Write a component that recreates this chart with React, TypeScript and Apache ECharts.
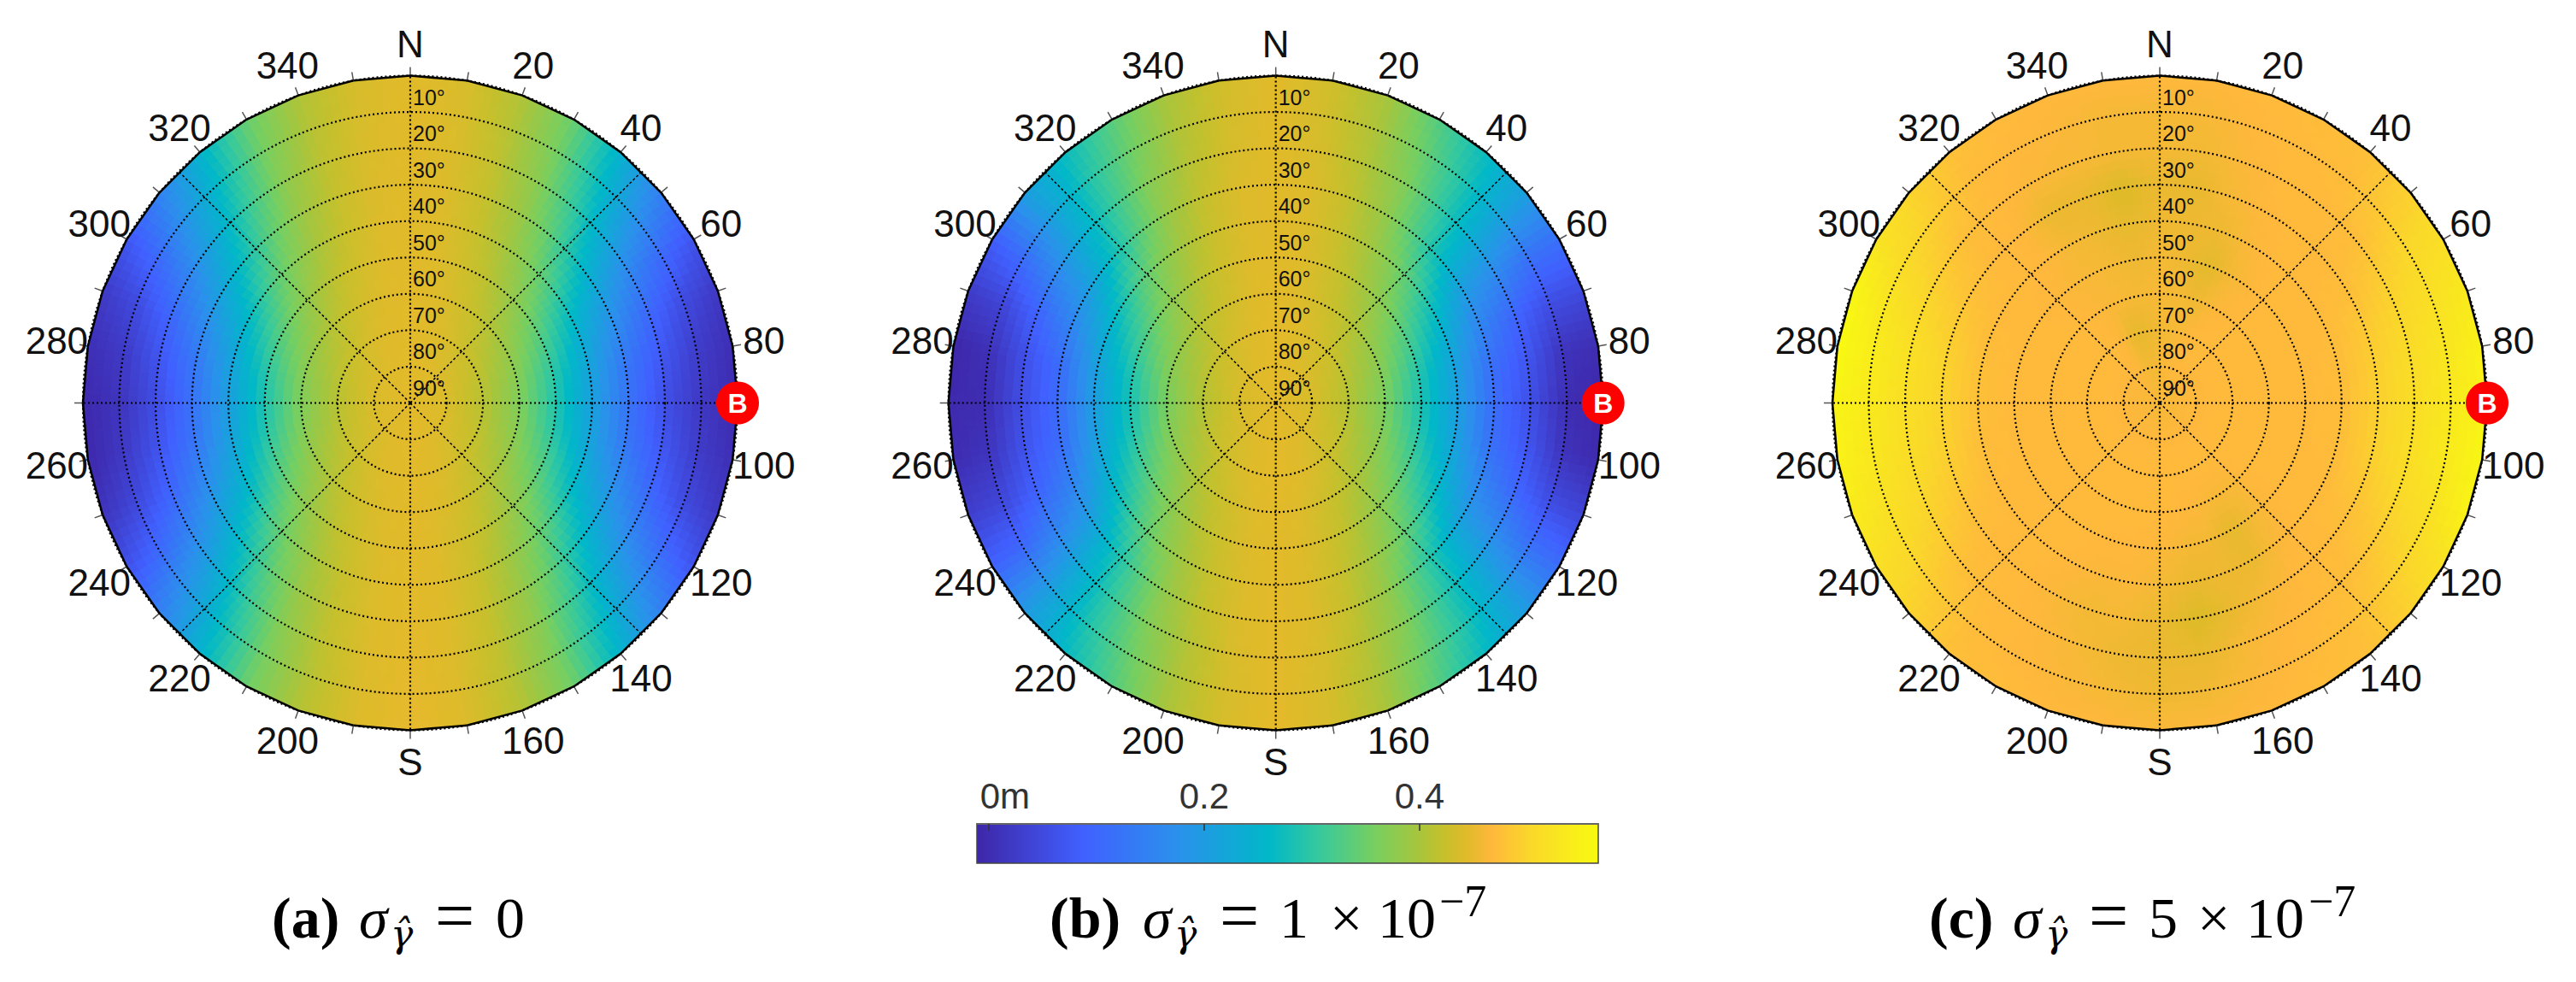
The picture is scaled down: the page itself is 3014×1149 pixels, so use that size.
import React, { useEffect, useRef } from "react";
import * as echarts from "echarts";

const elevations = [0, 10, 20, 30, 40, 50, 60, 70, 80];
const azimuths = Array.from({ length: 36 }, (_, i) => i * 10);
const compassAzimuths = [0, 20, 40, 60, 80, 100, 120, 140, 160, 180, 200, 220, 240, 260, 280, 300, 320, 340];
const compassLabels = ["N", "20", "40", "60", "80", "100", "120", "140", "160", "S", "200", "220", "240", "260", "280", "300", "320", "340"];
const spokeAzimuths = [0, 45, 90, 135, 180, 225, 270, 315];

const colormapValues = [-0.011, 0.087, 0.174, 0.26, 0.306, 0.358, 0.40, 0.422, 0.445, 0.468, 0.503, 0.566];
const colormapColors = ["#3e26a8", "#4060ff", "#2b90ec", "#00b8c8", "#35c99e", "#77cf60", "#a8c53c", "#c6c02c", "#e2ba2a", "#ffb83c", "#fad82a", "#f8fa10"];
const colorbarTicks = [0, 0.2, 0.4];

const centerValues = [0.445, 0.445, 0.462];

const valuesA = [
  [.445,.437,.407,.347,.248,.145,.065,.019,.002,-.003,.003,.02,.066,.147,.25,.35,.41,.44,.45,.44,.41,.35,.25,.145,.06,.012,-.008,-.006,.004,.022,.07,.15,.25,.345,.405,.435],
  [.445,.438,.411,.359,.273,.185,.102,.05,.027,.019,.027,.05,.103,.187,.275,.36,.413,.44,.448,.44,.412,.36,.273,.185,.1,.046,.02,.012,.022,.05,.104,.188,.273,.358,.41,.437],
  [.445,.439,.417,.375,.305,.225,.153,.099,.073,.058,.073,.1,.154,.226,.306,.376,.418,.44,.447,.44,.418,.375,.305,.224,.15,.095,.067,.054,.068,.098,.153,.226,.305,.374,.416,.438],
  [.445,.44,.422,.39,.338,.27,.213,.165,.13,.122,.13,.166,.214,.271,.339,.39,.423,.441,.446,.441,.422,.39,.338,.27,.212,.162,.127,.118,.128,.164,.213,.27,.337,.389,.421,.439],
  [.445,.441,.427,.403,.368,.325,.271,.237,.215,.207,.215,.238,.272,.325,.368,.403,.428,.442,.446,.441,.427,.403,.368,.325,.27,.235,.213,.204,.213,.236,.271,.324,.367,.402,.426,.44],
  [.445,.442,.432,.418,.396,.369,.34,.315,.295,.29,.295,.316,.34,.369,.396,.418,.432,.442,.445,.442,.432,.418,.396,.369,.34,.314,.294,.288,.294,.315,.34,.369,.396,.418,.432,.442],
  [.445,.443,.438,.428,.418,.403,.39,.378,.369,.365,.369,.378,.39,.403,.418,.428,.438,.443,.445,.443,.438,.428,.418,.403,.39,.378,.369,.365,.369,.378,.39,.403,.418,.428,.438,.443],
  [.445,.444,.442,.438,.431,.426,.422,.417,.413,.412,.413,.417,.422,.426,.431,.438,.442,.444,.445,.444,.442,.438,.431,.426,.422,.417,.413,.412,.413,.417,.422,.426,.431,.438,.442,.444],
  [.445,.445,.444,.443,.442,.441,.44,.44,.438,.438,.438,.44,.44,.441,.442,.443,.444,.445,.445,.445,.444,.443,.442,.441,.44,.44,.438,.438,.438,.44,.44,.441,.442,.443,.444,.445],
];

const valuesB = [
  [.445,.43,.40,.33,.27,.205,.115,.05,.0,-.008,-.005,.04,.11,.2,.265,.33,.40,.435,.448,.435,.40,.33,.265,.2,.09,.03,.0,-.005,-.01,.025,.08,.205,.27,.335,.40,.43],
  [.445,.432,.405,.35,.29,.215,.12,.055,.012,.0,.012,.055,.122,.215,.29,.35,.405,.435,.447,.435,.405,.35,.29,.21,.105,.045,.012,.0,.005,.04,.11,.21,.29,.35,.405,.432],
  [.445,.435,.41,.37,.305,.235,.16,.095,.07,.06,.07,.098,.16,.235,.305,.37,.412,.437,.447,.437,.41,.37,.305,.232,.15,.09,.065,.055,.06,.09,.155,.232,.305,.37,.41,.435],
  [.445,.44,.42,.385,.325,.26,.195,.15,.115,.11,.115,.15,.195,.26,.325,.385,.42,.44,.446,.44,.42,.385,.325,.26,.192,.145,.11,.105,.11,.148,.195,.26,.325,.385,.42,.44],
  [.445,.44,.425,.40,.365,.32,.27,.235,.21,.205,.21,.235,.27,.32,.365,.40,.425,.44,.446,.44,.425,.40,.365,.32,.27,.233,.208,.2,.208,.233,.27,.32,.365,.40,.425,.44],
  [.445,.442,.43,.415,.39,.365,.335,.31,.29,.285,.29,.31,.335,.365,.39,.415,.43,.442,.445,.442,.43,.415,.39,.365,.335,.31,.288,.282,.288,.31,.335,.365,.39,.415,.43,.442],
  [.445,.443,.435,.425,.415,.40,.385,.375,.365,.36,.365,.375,.385,.40,.415,.425,.435,.443,.445,.443,.435,.425,.415,.40,.385,.375,.365,.36,.365,.375,.385,.40,.415,.425,.435,.443],
  [.445,.445,.442,.437,.43,.425,.42,.415,.41,.41,.41,.415,.42,.425,.43,.437,.442,.445,.445,.445,.442,.437,.43,.425,.42,.415,.41,.41,.41,.415,.42,.425,.43,.437,.442,.445],
  [.445,.445,.444,.443,.441,.44,.439,.438,.437,.437,.437,.438,.439,.44,.441,.443,.444,.445,.445,.445,.444,.443,.441,.44,.439,.438,.437,.437,.437,.438,.439,.44,.441,.443,.444,.445],
];

const valuesC = [
  [.468,.468,.47,.472,.476,.495,.515,.535,.55,.555,.56,.552,.52,.495,.476,.472,.468,.466,.465,.468,.468,.472,.476,.497,.516,.538,.552,.555,.565,.56,.524,.5,.478,.47,.468,.468],
  [.46,.462,.468,.47,.472,.487,.505,.518,.528,.532,.535,.522,.505,.487,.474,.47,.465,.458,.455,.46,.465,.468,.472,.487,.505,.52,.53,.535,.54,.527,.506,.49,.472,.468,.465,.46],
  [.46,.458,.465,.47,.47,.473,.49,.502,.51,.512,.515,.506,.49,.475,.47,.468,.462,.45,.452,.455,.462,.468,.47,.475,.492,.503,.512,.515,.518,.506,.492,.475,.47,.465,.462,.46],
  [.452,.45,.462,.468,.47,.47,.474,.486,.492,.495,.495,.488,.476,.47,.47,.462,.452,.44,.452,.46,.458,.465,.47,.47,.476,.488,.495,.498,.498,.49,.478,.47,.468,.452,.452,.44],
  [.455,.455,.455,.465,.47,.47,.47,.471,.472,.473,.473,.471,.47,.47,.465,.452,.455,.452,.46,.465,.465,.468,.47,.47,.47,.472,.474,.476,.476,.472,.47,.47,.468,.46,.455,.448],
  [.46,.455,.445,.46,.468,.47,.47,.47,.47,.47,.47,.47,.47,.468,.46,.448,.458,.46,.465,.468,.468,.47,.47,.47,.47,.47,.47,.47,.47,.47,.47,.468,.465,.462,.46,.455],
  [.462,.46,.455,.465,.468,.47,.47,.47,.47,.47,.47,.47,.47,.468,.462,.462,.466,.468,.47,.47,.47,.47,.47,.47,.47,.47,.47,.47,.47,.47,.47,.47,.468,.465,.462,.46],
  [.458,.46,.465,.47,.47,.47,.47,.47,.47,.47,.47,.47,.47,.47,.47,.47,.47,.47,.47,.47,.47,.47,.47,.47,.47,.47,.47,.47,.47,.47,.47,.47,.47,.465,.448,.452],
  [.462,.465,.467,.468,.468,.468,.468,.468,.468,.468,.468,.468,.468,.468,.468,.468,.468,.468,.468,.468,.468,.468,.468,.468,.468,.468,.468,.468,.468,.468,.468,.468,.468,.466,.46,.458],
];

const panelValues = [valuesA, valuesB, valuesC];
const panelCenters = [480, 1492.7, 2527];

const SANS = '"Liberation Sans", Arial, sans-serif';
const SERIF = '"Liberation Serif", "Times New Roman", serif';
const MATH = '"DejaVu Serif", serif';

const hex = (c: string) => [parseInt(c.slice(1, 3), 16), parseInt(c.slice(3, 5), 16), parseInt(c.slice(5, 7), 16)];
const rgbStops = colormapColors.map(hex);

function colorOf(v: number) {
  const n = colormapValues.length;
  if (v <= colormapValues[0]) return colormapColors[0];
  if (v >= colormapValues[n - 1]) return colormapColors[n - 1];
  let i = 0;
  while (v > colormapValues[i + 1]) i++;
  const t = (v - colormapValues[i]) / (colormapValues[i + 1] - colormapValues[i]);
  const a = rgbStops[i];
  const b = rgbStops[i + 1];
  return `rgb(${Math.round(a[0] + (b[0] - a[0]) * t)},${Math.round(a[1] + (b[1] - a[1]) * t)},${Math.round(a[2] + (b[2] - a[2]) * t)})`;
}

const ringStep = [1, 2, 2, 3, 4, 4, 5, 6, 6];

function cellsSeries(p: number) {
  const table = panelValues[p];
  const data: number[][] = [];
  elevations.forEach((el, i) => azimuths.forEach((az, j) => data.push([el, az, table[i][j]])));
  return {
    type: "custom",
    coordinateSystem: "polar",
    polarIndex: p,
    silent: true,
    z: 2,
    data,
    renderItem: (params: any, api: any) => {
      const i = Math.floor(params.dataIndex / 36);
      const j = params.dataIndex % 36;
      const el0 = elevations[i];
      const el1 = el0 + 10;
      const az0 = azimuths[j];
      const az1 = az0 + 10;
      const v00 = table[i][j];
      const v01 = table[i][(j + 1) % 36];
      const v10 = i === 8 ? centerValues[p] : table[i + 1][j];
      const v11 = i === 8 ? centerValues[p] : table[i + 1][(j + 1) % 36];
      const p00 = api.coord([el0, az0]);
      const p01 = api.coord([el0, az1]);
      const p10 = api.coord([el1, az0]);
      const p11 = api.coord([el1, az1]);
      const na = ringStep[8 - i];
      const nr = 4;
      const pt = (s: number, t: number) => [
        (1 - t) * ((1 - s) * p00[0] + s * p01[0]) + t * ((1 - s) * p10[0] + s * p11[0]),
        (1 - t) * ((1 - s) * p00[1] + s * p01[1]) + t * ((1 - s) * p10[1] + s * p11[1]),
      ];
      const val = (s: number, t: number) => (1 - t) * ((1 - s) * v00 + s * v01) + t * ((1 - s) * v10 + s * v11);
      const children: any[] = [];
      for (let a = 0; a < na; a++) {
        for (let r = 0; r < nr; r++) {
          const s0 = a / na, s1 = (a + 1) / na, t0 = r / nr, t1 = (r + 1) / nr;
          const c = colorOf(val((s0 + s1) / 2, (t0 + t1) / 2));
          children.push({
            type: "polygon",
            shape: { points: [pt(s0, t0), pt(s1, t0), pt(s1, t1), pt(s0, t1)] },
            style: { fill: c, stroke: c, lineWidth: 1 },
          });
        }
      }
      return { type: "group", children };
    },
  };
}

function spokesSeries(p: number) {
  return {
    type: "custom",
    coordinateSystem: "polar",
    polarIndex: p,
    silent: true,
    z: 4,
    data: spokeAzimuths.map((az) => [0, az]),
    renderItem: (_: any, api: any) => {
      const az = api.value(1);
      const a = api.coord([90, az]);
      const b = api.coord([0, az]);
      const cardinal = az % 90 === 0;
      return {
        type: "line",
        shape: { x1: a[0], y1: a[1], x2: b[0], y2: b[1] },
        style: { stroke: "#000", lineWidth: cardinal ? 2.2 : 1.5, lineDash: cardinal ? [2, 3] : [3, 2.5] },
      };
    },
  };
}

function outlineSeries(p: number) {
  return {
    type: "custom",
    coordinateSystem: "polar",
    polarIndex: p,
    silent: true,
    z: 6,
    data: azimuths.map((az) => [0, az]),
    renderItem: (_: any, api: any) => {
      const az = api.value(1);
      const a = api.coord([0, az]);
      const b = api.coord([0, az + 10]);
      return {
        type: "line",
        shape: { x1: a[0], y1: a[1], x2: b[0], y2: b[1] },
        style: { stroke: "#000", lineWidth: 2.5 },
      };
    },
  };
}

function compassSeries(p: number) {
  return {
    type: "custom",
    coordinateSystem: "polar",
    polarIndex: p,
    silent: true,
    z: 7,
    data: compassAzimuths.map((az) => [0, az]),
    renderItem: (params: any, api: any) => {
      const c = api.coord([-8.7, api.value(1)]);
      return {
        type: "text",
        x: c[0],
        y: c[1],
        style: {
          text: compassLabels[params.dataIndex],
          align: "center",
          verticalAlign: "middle",
          fill: "#111",
          font: `44px ${SANS}`,
        },
      };
    },
  };
}

function markerSeries(p: number) {
  return {
    type: "custom",
    coordinateSystem: "polar",
    polarIndex: p,
    silent: true,
    z: 8,
    data: [[0, 90]],
    renderItem: (_: any, api: any) => {
      const c = api.coord([0, api.value(1)]);
      return {
        type: "group",
        children: [
          { type: "circle", shape: { cx: c[0], cy: c[1], r: 25 }, style: { fill: "#ff0000" } },
          {
            type: "text",
            x: c[0],
            y: c[1],
            style: { text: "B", align: "center", verticalAlign: "middle", fill: "#fff", font: `bold 32px ${SANS}` },
          },
        ],
      };
    },
  };
}

const captionPieces: [string, number, number, string][] = [
  ["(a)", 318, 1097, `bold 68px ${SERIF}`],
  ["σ", 420, 1097, `italic 68px ${SERIF}`],
  ["γ̂", 457, 1107, `italic 44px ${MATH}`],
  ["=", 509, 1099, `82px ${SERIF}`],
  ["0", 580, 1097, `68px ${SERIF}`],
  ["(b)", 1228, 1097, `bold 68px ${SERIF}`],
  ["σ", 1337, 1097, `italic 68px ${SERIF}`],
  ["γ̂", 1374, 1107, `italic 44px ${MATH}`],
  ["=", 1427, 1099, `82px ${SERIF}`],
  ["1", 1497, 1097, `68px ${SERIF}`],
  ["×", 1556, 1097, `68px ${SERIF}`],
  ["10", 1612, 1097, `68px ${SERIF}`],
  ["−7", 1684, 1072, `52px ${SERIF}`],
  ["(c)", 2257, 1097, `bold 68px ${SERIF}`],
  ["σ", 2355, 1097, `italic 68px ${SERIF}`],
  ["γ̂", 2393, 1107, `italic 44px ${MATH}`],
  ["=", 2444, 1099, `82px ${SERIF}`],
  ["5", 2514, 1097, `68px ${SERIF}`],
  ["×", 2571, 1097, `68px ${SERIF}`],
  ["10", 2628, 1097, `68px ${SERIF}`],
  ["−7", 2701, 1072, `52px ${SERIF}`],
];

function buildOption() {
  const panels = [0, 1, 2];
  const barMin = colormapValues[0];
  const barMax = colormapValues[colormapValues.length - 1];
  return {
    animation: false,
    backgroundColor: "#fff",
    polar: panelCenters.map((cx) => ({ center: [cx, 471.5], radius: [0, 383] })),
    angleAxis: panels.map((p) => ({
      polarIndex: p,
      type: "value",
      min: 0,
      max: 360,
      interval: 10,
      startAngle: 90,
      clockwise: true,
      z: 5,
      axisLine: { show: false },
      axisTick: { show: true, length: 10, lineStyle: { color: "#555", width: 1.5 } },
      axisLabel: { show: false },
      splitLine: { show: false },
    })),
    radiusAxis: panels.map((p) => ({
      polarIndex: p,
      type: "value",
      min: 0,
      max: 90,
      interval: 10,
      inverse: true,
      z: 5,
      axisLine: { show: false },
      axisTick: { show: false },
      axisLabel: {
        show: true,
        inside: true,
        margin: -3,
        align: "left",
        fontFamily: SANS,
        fontSize: 25,
        color: "#111",
        verticalAlign: "bottom",
        padding: [0, 0, 5, 0],
        formatter: (v: number) => (v === 0 ? "" : `${v}°`),
      },
      splitLine: { show: true, lineStyle: { color: "#000", width: 2.2, type: [2, 3] } },
    })),
    grid: { left: 1143, top: 964, width: 727, height: 46 },
    xAxis: {
      type: "value",
      position: "top",
      min: barMin,
      max: barMax,
      z: 5,
      splitLine: { show: false },
      axisLine: { show: true, onZero: false, lineStyle: { color: "#666", width: 2 } },
      axisTick: { show: true, inside: true, length: 8, customValues: colorbarTicks, lineStyle: { color: "#333", width: 1.5 } },
      axisLabel: {
        show: true,
        customValues: colorbarTicks,
        margin: 12,
        fontFamily: SANS,
        fontSize: 42,
        color: "#333",
        formatter: (v: number) => (v === 0 ? "{z|0m}" : String(v)),
        rich: { z: { fontFamily: SANS, fontSize: 42, color: "#333", padding: [0, 0, 0, 38] } },
      },
    },
    yAxis: { type: "value", min: 0, max: 1, show: false },
    graphic: captionPieces.map(([text, x, base, font]) => {
      const size = parseInt(font.match(/(\d+)px/)![1], 10);
      return {
        type: "text",
        x,
        y: base - 0.3375 * size,
        style: { text, font, fill: "#000", align: "left", verticalAlign: "middle" },
      };
    }),
    series: [
      ...panels.map(cellsSeries),
      ...panels.map(spokesSeries),
      ...panels.map(outlineSeries),
      ...panels.map(compassSeries),
      ...panels.map(markerSeries),
      {
        type: "custom",
        coordinateSystem: "cartesian2d",
        silent: true,
        z: 2,
        data: [[barMin, 0, barMax, 1]],
        renderItem: (_: any, api: any) => {
          const a = api.coord([api.value(0), api.value(3)]);
          const b = api.coord([api.value(2), api.value(1)]);
          const stops = colormapValues.map((v, i) => ({
            offset: (v - barMin) / (barMax - barMin),
            color: colormapColors[i],
          }));
          return {
            type: "rect",
            shape: { x: a[0], y: a[1], width: b[0] - a[0], height: b[1] - a[1] },
            style: {
              fill: new echarts.graphic.LinearGradient(0, 0, 1, 0, stops),
              stroke: "#444",
              lineWidth: 1.5,
            },
          };
        },
      },
    ],
  };
}

export default function App() {
  const ref = useRef<HTMLDivElement>(null);
  useEffect(() => {
    if (!ref.current) return;
    const chart = echarts.init(ref.current, undefined, { renderer: "svg" });
    chart.setOption(buildOption() as any);
    return () => chart.dispose();
  }, []);
  return <div ref={ref} style={{ position: "absolute", left: 0, top: 0, width: 3014, height: 1149 }} />;
}
